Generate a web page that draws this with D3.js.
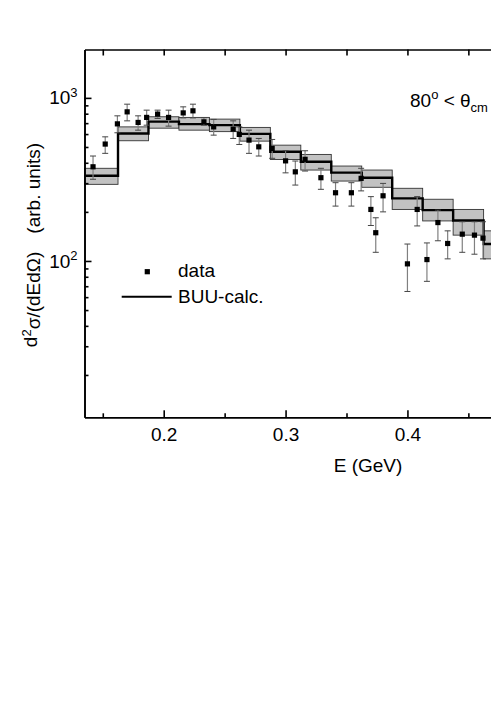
<!DOCTYPE html>
<html>
<head>
<meta charset="utf-8">
<script src="https://cdn.jsdelivr.net/npm/d3@7"></script>
<style>
  body { margin: 0; background: #fff; }
  svg { display: block; font-family: "Liberation Sans", Arial, sans-serif; }
</style>
</head>
<body>
<div id="chart"></div>
<script>
// measured data points: energy (GeV), value, error bar low / high
var dataE  = [0.142, 0.152, 0.162, 0.170, 0.179, 0.186, 0.195, 0.204, 0.216, 0.224,
              0.233, 0.241, 0.257, 0.262, 0.270, 0.278, 0.289, 0.300, 0.308, 0.316,
              0.329, 0.341, 0.354, 0.362, 0.370, 0.374, 0.380, 0.400, 0.408, 0.416,
              0.425, 0.433, 0.445, 0.455, 0.462];
var dataV  = [378, 521, 693, 821, 707, 759, 795, 759, 809, 833,
              713, 664, 643, 597, 551, 501, 490, 411, 352, 420,
              324, 262, 262, 321, 207, 149, 251, 96, 207, 102,
              172, 128, 146, 144, 138];
var dataLo = [317, 457, 611, 723, 634, 680, 748, 671, 754, 754,
              680, 591, 564, 518, 457, 440, 426, 347, 292, 356,
              275, 217, 217, 269, 165, 113, 200, 65, 164, 75,
              133, 103, 113, 110, 103];
var dataHi = [440, 577, 776, 915, 776, 841, 841, 841, 881, 915,
              756, 738, 723, 664, 634, 564, 556, 474, 410, 474,
              370, 302, 302, 370, 248, 184, 299, 127, 248, 129,
              205, 153, 174, 174, 174];

// BUU calculation: histogram bin edges, value and uncertainty band
var binEdges = [0.135, 0.1625, 0.1875, 0.2125, 0.2375, 0.2625, 0.2875, 0.3125,
                0.3375, 0.3625, 0.3875, 0.4125, 0.4375, 0.4625, 0.4875];
var buuV  = [333, 605, 715, 690, 681, 602, 467, 406, 348, 324, 242, 205, 177, 127];
var buuLo = [295, 546, 652, 634, 621, 543, 419, 361, 309, 283, 207, 176, 144, 103];
var buuHi = [370, 664, 766, 759, 741, 659, 513, 450, 382, 361, 279, 239, 207, 153];

var xMajor = [0.2, 0.3, 0.4];
var xMinor = [0.15, 0.25, 0.35, 0.45];
var yMajor = [100, 1000];
var yMinor = [20, 30, 40, 50, 60, 70, 80, 90, 200, 300, 400, 500, 600, 700, 800, 900];

var width = 491, height = 706;
var plotLeft = 84.5, plotTop = 49.5, plotBottom = 417.3;

var svg = d3.select('#chart')
  .append('svg')
  .attr('width', width)
  .attr('height', height);

var x = d3.scaleLinear().domain([0.135, 0.5]).range([plotLeft, 529.3]);
var y = d3.scaleLog().domain([11, 1980]).range([plotBottom, plotTop]);

// uncertainty band
svg.append('g').selectAll('rect')
  .data(buuV)
  .enter().append('rect')
  .attr('x', function(d, i){ return x(binEdges[i]); })
  .attr('width', function(d, i){ return x(binEdges[i + 1]) - x(binEdges[i]); })
  .attr('y', function(d, i){ return y(buuHi[i]); })
  .attr('height', function(d, i){ return y(buuLo[i]) - y(buuHi[i]); })
  .style('fill', '#c2c2c2')
  .style('stroke', '#333')
  .style('stroke-width', 0.9);

// BUU step line
var steps = buuV.map(function(v, i){ return [binEdges[i], v]; });
steps.push([binEdges[binEdges.length - 1], buuV[buuV.length - 1]]);
svg.append('path')
  .datum(steps)
  .attr('d', d3.line()
    .x(function(d){ return x(d[0]); })
    .y(function(d){ return y(d[1]); })
    .curve(d3.curveStepAfter))
  .style('fill', 'none')
  .style('stroke', '#000')
  .style('stroke-width', 2.4);

// error bars
var bars = svg.append('g');
dataE.forEach(function(e, i){
  var cx = x(e);
  bars.append('line')
    .attr('x1', cx).attr('x2', cx)
    .attr('y1', y(dataHi[i])).attr('y2', y(dataLo[i]))
    .style('stroke', '#808080').style('stroke-width', 1.2);
  [dataHi[i], dataLo[i]].forEach(function(v){
    bars.append('line')
      .attr('x1', cx - 3).attr('x2', cx + 3)
      .attr('y1', y(v)).attr('y2', y(v))
      .style('stroke', '#444').style('stroke-width', 1);
  });
});

// data squares
svg.append('g').selectAll('rect')
  .data(dataE)
  .enter().append('rect')
  .attr('x', function(d){ return x(d) - 2.6; })
  .attr('y', function(d, i){ return y(dataV[i]) - 2.6; })
  .attr('width', 5.2)
  .attr('height', 5.2)
  .style('fill', '#000');

// axes
var axisStyle = function(g){
  g.selectAll('path, line').style('stroke', '#000').style('stroke-width', 1.6);
  g.selectAll('text').style('font-size', '19px').style('fill', '#000');
};

svg.append('g')
  .attr('transform', 'translate(0,' + plotBottom + ')')
  .call(d3.axisBottom(x).tickValues(xMajor).tickSizeInner(-7).tickSizeOuter(0)
    .tickPadding(10).tickFormat(d3.format('.1f')))
  .call(axisStyle);
svg.append('g')
  .attr('transform', 'translate(0,' + plotBottom + ')')
  .call(d3.axisBottom(x).tickValues(xMinor).tickSizeInner(-4).tickSizeOuter(0).tickFormat(''))
  .call(axisStyle);

svg.append('g')
  .attr('transform', 'translate(0,' + plotTop + ')')
  .call(d3.axisTop(x).tickValues(xMajor.concat(xMinor)).tickSizeInner(-6).tickSizeOuter(0).tickFormat(''))
  .call(axisStyle);

var yAxis = svg.append('g')
  .attr('transform', 'translate(' + plotLeft + ',0)')
  .call(d3.axisLeft(y).tickValues(yMajor).tickSizeInner(-7).tickSizeOuter(0).tickPadding(7))
  .call(axisStyle);
yAxis.selectAll('.tick text').each(function(d){
  var t = d3.select(this).text('');
  t.append('tspan').text('10');
  t.append('tspan').attr('dy', '-0.55em').style('font-size', '13px').text(Math.round(Math.log10(d)));
});
svg.append('g')
  .attr('transform', 'translate(' + plotLeft + ',0)')
  .call(d3.axisLeft(y).tickValues(yMinor).tickSizeInner(-4).tickSizeOuter(0).tickFormat(''))
  .call(axisStyle);

// axis titles
svg.append('text')
  .attr('x', 368).attr('y', 472)
  .attr('text-anchor', 'middle')
  .style('font-size', '19px')
  .text('E (GeV)');

var yt = svg.append('text')
  .attr('transform', 'rotate(-90)')
  .attr('x', -245).attr('y', 37)
  .attr('text-anchor', 'middle')
  .style('font-size', '19px');
yt.append('tspan').text('d');
yt.append('tspan').attr('dy', '-0.5em').style('font-size', '13px').text('2');
yt.append('tspan').attr('dy', '0.5em').text('σ/(dEdΩ)');
yt.append('tspan').attr('dx', 18).text('(arb. units)');

// angle annotation
var ann = svg.append('text')
  .attr('x', 410).attr('y', 106.7)
  .style('font-size', '19px');
ann.append('tspan').text('80');
ann.append('tspan').attr('dy', -8).style('font-size', '13px').text('o');
ann.append('tspan').attr('dy', 8).text(' < θ');
ann.append('tspan').attr('dy', 5).style('font-size', '13px').text('cm');

// legend
var legend = svg.append('g');
legend.append('rect')
  .attr('x', 144.7).attr('y', 269.1).attr('width', 5.2).attr('height', 5.2)
  .style('fill', '#000');
legend.append('text')
  .attr('x', 178).attr('y', 277.3)
  .style('font-size', '19px')
  .text('data');
legend.append('line')
  .attr('x1', 121.7).attr('x2', 171.7).attr('y1', 296.7).attr('y2', 296.7)
  .style('stroke', '#000').style('stroke-width', 2);
legend.append('text')
  .attr('x', 178).attr('y', 303.3)
  .style('font-size', '19px')
  .text('BUU-calc.');
</script>
</body>
</html>
